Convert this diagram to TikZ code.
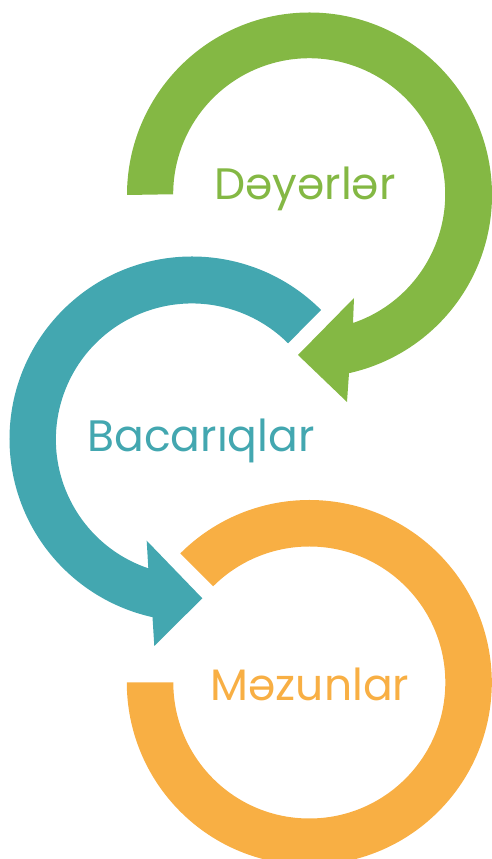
\documentclass[tikz,border=0pt]{standalone}
\usepackage{fontspec}
\setmainfont{Poppins}
\usepackage{tikz}
\definecolor{leaf}{HTML}{84B844}
\definecolor{teal}{HTML}{43A7B0}
\definecolor{amber}{HTML}{F8AF44}
\tikzset{
  ringg/.style ={fill=leaf},
  ringt/.style ={fill=teal},
  ringo/.style ={fill=amber},
  label/.style ={font=\fontsize{44}{44}\selectfont, anchor=base, inner sep=0pt}
}
\begin{document}
\begin{tikzpicture}[x=1pt, y=1pt]
  \clip (0,0) rectangle (492,859);

  % centres of the three rings
  \coordinate (gc) at (309.5,664);
  \coordinate (tc) at (192,420);
  \coordinate (oc) at (309.3,176.5);

  % green ring, clockwise, head at lower left
  \fill[ringg] ([shift={(180:182.5)}]gc) arc[start angle=180, end angle=-77.5, radius=182.5pt]
    -- (347,457) -- (298,504) -- (354,561) -- (353,536)
    arc[start angle=-71.2, end angle=180, radius=136pt] -- cycle;

  % teal ring, counter-clockwise, head at lower right
  \fill[ringt] ([shift={(45:182.5)}]tc) arc[start angle=45, end angle=257.5, radius=182.5pt]
    -- (154.3,213) -- (202.3,260.7) -- (146.7,318.3) -- (148.3,290.7)
    arc[start angle=251.3, end angle=45, radius=136pt] -- cycle;

  % orange ring, open at the left
  \fill[ringo] ([shift={(135:182.5)}]oc) arc[start angle=135, end angle=-180, radius=182.5pt]
    -- ([shift={(180:136)}]oc)
    arc[start angle=-180, end angle=135, radius=136pt] -- cycle;

  \node[label, text=leaf]  (dey) at (305,659)   {Dəyərlər};
  \node[label, text=teal]  (bac) at (201,407.3) {Bacarıqlar};
  \node[label, text=amber] (mez) at (310,158.3) {Məzunlar};
\end{tikzpicture}
\end{document}
